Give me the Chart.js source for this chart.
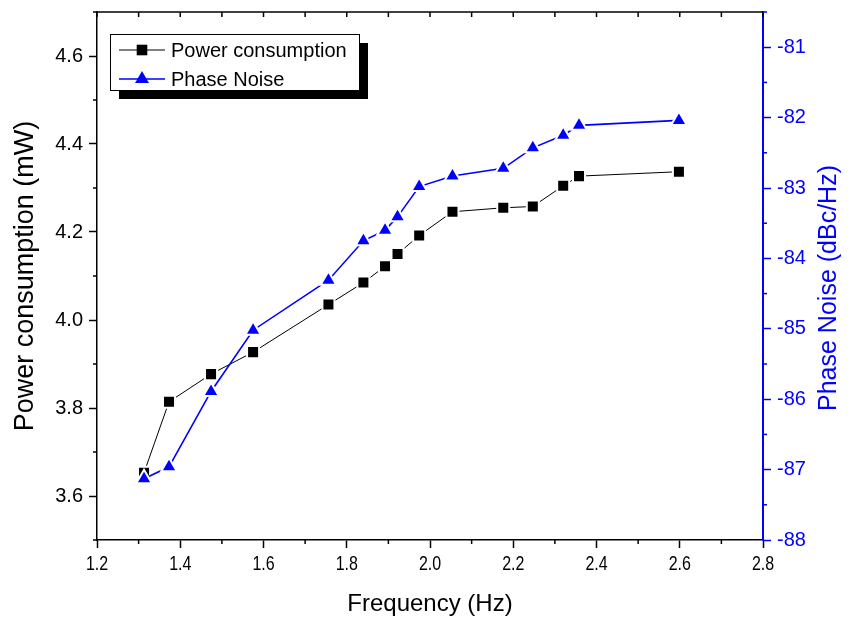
<!DOCTYPE html>
<html>
<head>
<meta charset="utf-8">
<script src="https://cdn.jsdelivr.net/npm/chart.js@4/dist/chart.umd.min.js"></script>
<style>
  html, body { margin: 0; padding: 0; background: #fff; }
  canvas { display: block; }
</style>
</head>
<body>
<canvas id="chart" width="856" height="617"></canvas>
<script>
// values
const frequency = [1.313, 1.373, 1.474, 1.575, 1.756, 1.840, 1.892, 1.922, 1.974, 2.054, 2.176, 2.247, 2.320, 2.358, 2.598];
const powerConsumption = [3.653, 3.814, 3.877, 3.927, 4.035, 4.085, 4.122, 4.150, 4.192, 4.246, 4.255, 4.258, 4.305, 4.327, 4.337];
const phaseNoise = [-87.13, -86.96, -85.89, -85.02, -84.31, -83.75, -83.60, -83.41, -82.98, -82.83, -82.72, -82.43, -82.25, -82.11, -82.04];

// axis ticks
const freqTicks = [1.2, 1.4, 1.6, 1.8, 2.0, 2.2, 2.4, 2.6, 2.8];
const freqMinor = [1.3, 1.5, 1.7, 1.9, 2.1, 2.3, 2.5, 2.7];
const powerTicks = [3.6, 3.8, 4.0, 4.2, 4.4, 4.6];
const powerMinor = [3.5, 3.7, 3.9, 4.1, 4.3, 4.5, 4.7];
const noiseTicks = [-88, -87, -86, -85, -84, -83, -82, -81];
const noiseMinor = [-87.5, -86.5, -85.5, -84.5, -83.5, -82.5, -81.5, -80.5];

const BLUE = '#0000ff';
const FONT = '"Liberation Sans", Arial, Helvetica, sans-serif';

const series = [
  { label: 'Power consumption', values: powerConsumption, color: '#000', style: 'rect', axis: 'yPower', width: 1, radius: 8.5, order: 1 },
  { label: 'Phase Noise', values: phaseNoise, color: BLUE, style: 'triangle', axis: 'yNoise', width: 1.6, radius: 9, order: 0 },
];

function line(ctx, x1, y1, x2, y2) {
  ctx.beginPath();
  ctx.moveTo(x1, y1);
  ctx.lineTo(x2, y2);
  ctx.stroke();
}

// frame, minor ticks, narrow x labels, right title and the boxed legend
const decorations = {
  id: 'decorations',
  afterDraw(chart) {
    const { ctx, chartArea: a, scales } = chart;
    ctx.save();

    ctx.strokeStyle = '#000';
    ctx.lineWidth = 1.5;
    line(ctx, a.left, a.top, a.right, a.top);
    freqTicks.concat(freqMinor).forEach((v) => {
      const px = scales.x.getPixelForValue(v);
      line(ctx, px, a.top, px, a.top + 5);
    });
    freqMinor.forEach((v) => {
      const px = scales.x.getPixelForValue(v);
      line(ctx, px, a.bottom, px, a.bottom + 4);
    });
    powerMinor.forEach((v) => {
      const py = scales.yPower.getPixelForValue(v);
      line(ctx, a.left - 4, py, a.left, py);
    });

    ctx.strokeStyle = BLUE;
    noiseMinor.forEach((v) => {
      const py = scales.yNoise.getPixelForValue(v);
      line(ctx, a.right, py, a.right + 4, py);
    });

    // x tick labels in a condensed face
    ctx.fillStyle = '#000';
    ctx.font = '20px ' + FONT;
    ctx.textAlign = 'center';
    ctx.textBaseline = 'middle';
    freqTicks.forEach((v) => {
      const px = scales.x.getPixelForValue(v);
      ctx.save();
      ctx.translate(px, a.bottom + 24);
      ctx.scale(0.8, 1);
      ctx.fillText(v.toFixed(1), 0, 0);
      ctx.restore();
    });

    // right axis title, reading upwards
    ctx.save();
    ctx.translate(829, (a.top + a.bottom) / 2 + 12);
    ctx.rotate(-Math.PI / 2);
    ctx.fillStyle = BLUE;
    ctx.font = '25px ' + FONT;
    ctx.textAlign = 'center';
    ctx.textBaseline = 'middle';
    ctx.fillText('Phase Noise (dBc/Hz)', 0, 0);
    ctx.restore();

    // legend with drop shadow
    const bx = a.left + 13, by = a.top + 22, bw = 249, bh = 56;
    ctx.fillStyle = '#000';
    ctx.fillRect(bx + 9, by + 9, bw, bh);
    ctx.fillStyle = '#fff';
    ctx.fillRect(bx, by, bw, bh);
    ctx.strokeStyle = '#000';
    ctx.lineWidth = 1;
    ctx.strokeRect(bx + 0.5, by + 0.5, bw, bh);

    series.forEach((s, i) => {
      const y = by + 16 + i * 29;
      ctx.strokeStyle = s.color;
      ctx.lineWidth = s.width;
      line(ctx, bx + 9, y, bx + 55, y);
      ctx.fillStyle = s.color;
      Chart.helpers.drawPoint(ctx, { pointStyle: s.style, radius: s.radius - 1, borderWidth: 0, rotation: 0 }, bx + 32, y);
      ctx.fillStyle = '#000';
      ctx.font = '20px ' + FONT;
      ctx.textAlign = 'left';
      ctx.textBaseline = 'middle';
      ctx.fillText(s.label, bx + 61, y + 1);
    });

    ctx.restore();
  }
};

const ctx = document.getElementById('chart').getContext('2d');
new Chart(ctx, {
  type: 'line',
  data: {
    datasets: series.map((s) => ({
      label: s.label,
      data: frequency.map((f, i) => ({ x: f, y: s.values[i] })),
      yAxisID: s.axis,
      borderColor: s.color,
      borderWidth: s.width,
      backgroundColor: s.color,
      pointStyle: s.style,
      pointRadius: s.radius,
      pointBackgroundColor: s.color,
      pointBorderColor: '#fff',
      pointBorderWidth: 2,
      tension: 0,
      fill: false,
      order: s.order,
    })),
  },
  options: {
    responsive: false,
    animation: false,
    layout: { padding: { top: 12, left: 0, right: 0, bottom: 0 } },
    plugins: {
      legend: { display: false },
      tooltip: { enabled: false },
    },
    scales: {
      x: {
        type: 'linear',
        position: 'bottom',
        min: 1.2,
        max: 2.8,
        afterBuildTicks: (scale) => { scale.ticks = freqTicks.map((v) => ({ value: v })); },
        afterFit: (scale) => { scale.height = 77; },
        ticks: {
          callback: () => '',
          maxRotation: 0,
          autoSkip: false,
        },
        grid: { drawOnChartArea: false, tickLength: 8, tickColor: '#000', tickWidth: 1.5 },
        border: { color: '#000', width: 1.5 },
        title: {
          display: true,
          text: 'Frequency (Hz)',
          color: '#000',
          font: { family: FONT, size: 24, lineHeight: 1 },
          padding: { top: 0, bottom: 1 },
        },
      },
      yPower: {
        type: 'linear',
        position: 'left',
        min: 3.5,
        max: 4.7,
        afterBuildTicks: (scale) => { scale.ticks = powerTicks.map((v) => ({ value: v })); },
        afterFit: (scale) => { scale.width = 97; },
        ticks: {
          callback: (v) => Number(v).toFixed(1),
          color: '#000',
          font: { family: FONT, size: 20, lineHeight: 0.6 },
          padding: 6,
        },
        grid: { drawOnChartArea: false, tickLength: 8, tickColor: '#000', tickWidth: 1.5 },
        border: { color: '#000', width: 1.5 },
        title: {
          display: true,
          text: 'Power consumption (mW)',
          color: '#000',
          font: { family: FONT, size: 27 },
          padding: { top: 9, bottom: 0 },
        },
      },
      yNoise: {
        type: 'linear',
        position: 'right',
        min: -88,
        max: -80.5,
        afterBuildTicks: (scale) => { scale.ticks = noiseTicks.map((v) => ({ value: v })); },
        afterFit: (scale) => { scale.width = 93; },
        ticks: {
          color: BLUE,
          font: { family: FONT, size: 20, lineHeight: 0.6 },
          padding: 6,
        },
        grid: { drawOnChartArea: false, tickLength: 8, tickColor: BLUE, tickWidth: 1.5 },
        border: { color: BLUE, width: 2 },
      },
    },
  },
  plugins: [decorations],
});
</script>
</body>
</html>
